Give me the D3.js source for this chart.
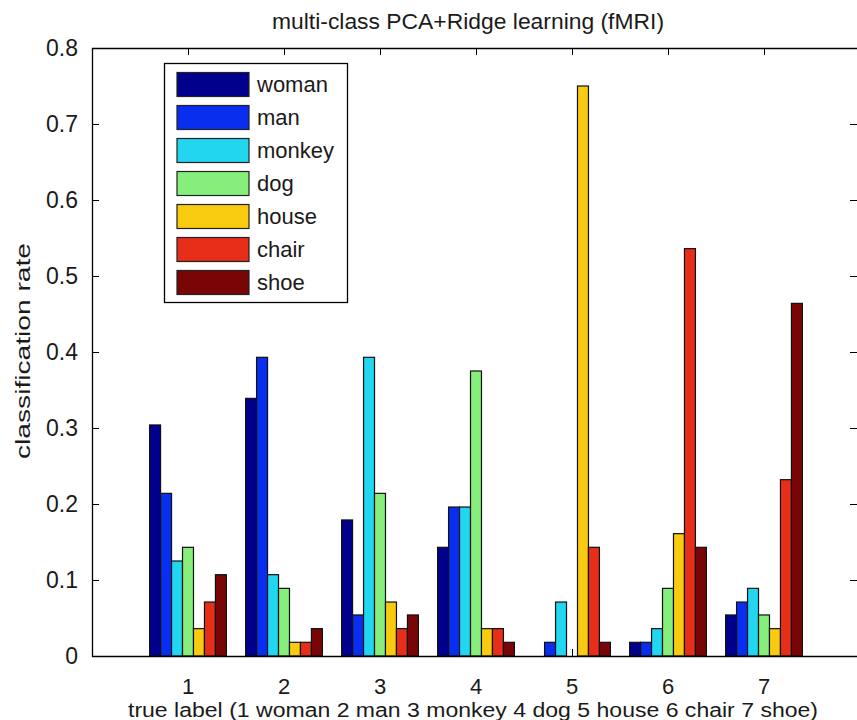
<!DOCTYPE html>
<html>
<head>
<meta charset="utf-8">
<script src="https://cdn.jsdelivr.net/npm/d3@7"></script>
<style>
html,body{margin:0;padding:0;background:#fff;}
svg{display:block;}
text{font-family:"Liberation Sans",Arial,sans-serif;fill:#1a1a1a;}
</style>
</head>
<body>
<svg id="chart" width="857" height="720"></svg>
<script>
const groups = ["1","2","3","4","5","6","7"];
const seriesNames = ["woman","man","monkey","dog","house","chair","shoe"];
const seriesColors = ["#00008c","#0a2ef0","#22d6f0","#86ee7a","#f8ca10","#e62e18","#780606"];
// values[series][group]
const woman  = [0.304,0.339,0.179,0.143,0.000,0.018,0.054];
const man    = [0.214,0.393,0.054,0.196,0.018,0.018,0.071];
const monkey = [0.125,0.107,0.393,0.196,0.071,0.036,0.089];
const dog    = [0.143,0.089,0.214,0.375,0.000,0.089,0.054];
const house  = [0.036,0.018,0.071,0.036,0.750,0.161,0.036];
const chair  = [0.071,0.018,0.036,0.036,0.143,0.536,0.232];
const shoe   = [0.107,0.036,0.054,0.018,0.018,0.143,0.464];
const seriesValues = [woman,man,monkey,dog,house,chair,shoe];
const yTicks = [0,0.1,0.2,0.3,0.4,0.5,0.6,0.7,0.8];
const titleText = "multi-class PCA+Ridge learning (fMRI)";
const xLabelText = "true label (1 woman 2 man 3 monkey 4 dog 5 house 6 chair 7 shoe)";
const yLabelText = "classification rate";

const svg = d3.select("#chart");
const x = d3.scaleLinear().domain([0,8]).range([92,860]);
const y = d3.scaleLinear().domain([0,0.8]).range([656,48]);
const groupWidth = 0.8, nS = seriesNames.length, bw = groupWidth/nS;

// inward ticks (drawn before bars, like MATLAB)
const gTicks = svg.append("g").attr("stroke","#000").attr("stroke-width",1);
groups.forEach((g,i)=>{
  const xx = Math.round(x(i+1))+0.5;
  gTicks.append("line").attr("x1",xx).attr("x2",xx).attr("y1",656).attr("y2",649);
  gTicks.append("line").attr("x1",xx).attr("x2",xx).attr("y1",48).attr("y2",55);
});
yTicks.forEach(t=>{
  const yy = Math.round(y(t))+0.5;
  gTicks.append("line").attr("x1",92).attr("x2",99).attr("y1",yy).attr("y2",yy);
  gTicks.append("line").attr("x1",850).attr("x2",857).attr("y1",yy).attr("y2",yy);
});

// bars
const gBars = svg.append("g");
seriesValues.forEach((vals,s)=>{
  vals.forEach((v,g)=>{
    if(v<=0) return;
    const x0 = x(g+1 - groupWidth/2 + s*bw);
    const x1 = x(g+1 - groupWidth/2 + (s+1)*bw);
    gBars.append("rect")
      .attr("x",x0).attr("y",y(v))
      .attr("width",x1-x0).attr("height",y(0)-y(v))
      .attr("fill",seriesColors[s]).attr("stroke","#111").attr("stroke-width",1.2);
  });
});

// axes box
const gBox = svg.append("g").attr("stroke","#000").attr("stroke-width",1.3).attr("fill","none");
gBox.append("path").attr("d",`M${x(8)},48.5 H92.5 V656.5 H${x(8)}`);

// y tick labels
svg.append("g").selectAll("text").data(yTicks).join("text")
  .attr("x",78).attr("y",d=>y(d)+8)
  .attr("text-anchor","end").attr("font-size",23)
  .text(d=>d===0?"0":d3.format(".1f")(d));

// x tick labels
svg.append("g").selectAll("text").data(groups).join("text")
  .attr("x",(d,i)=>x(i+1)).attr("y",694)
  .attr("text-anchor","middle").attr("font-size",22)
  .text(d=>d);

// title
svg.append("text").attr("x",468).attr("y",29).attr("text-anchor","middle")
  .attr("font-size",22).attr("textLength",392).attr("lengthAdjust","spacingAndGlyphs")
  .text(titleText);

// x label
svg.append("text").attr("x",473).attr("y",717).attr("text-anchor","middle")
  .attr("font-size",20).attr("textLength",690).attr("lengthAdjust","spacingAndGlyphs")
  .text(xLabelText);

// y label
svg.append("text").attr("transform","translate(30,351) rotate(-90)").attr("text-anchor","middle")
  .attr("font-size",21).attr("textLength",216).attr("lengthAdjust","spacingAndGlyphs")
  .text(yLabelText);

// legend
const lg = svg.append("g");
lg.append("rect").attr("x",164.5).attr("y",63.5).attr("width",183).attr("height",239)
  .attr("fill","#fff").attr("stroke","#000").attr("stroke-width",1.3);
seriesNames.forEach((n,i)=>{
  const cy = 84.5 + i*33;
  lg.append("rect").attr("x",177).attr("y",cy-12).attr("width",72).attr("height",24)
    .attr("fill",seriesColors[i]).attr("stroke","#222").attr("stroke-width",1.2);
  lg.append("text").attr("x",257).attr("y",cy+7).attr("font-size",22)
    .text(n);
});
</script>
</body>
</html>
